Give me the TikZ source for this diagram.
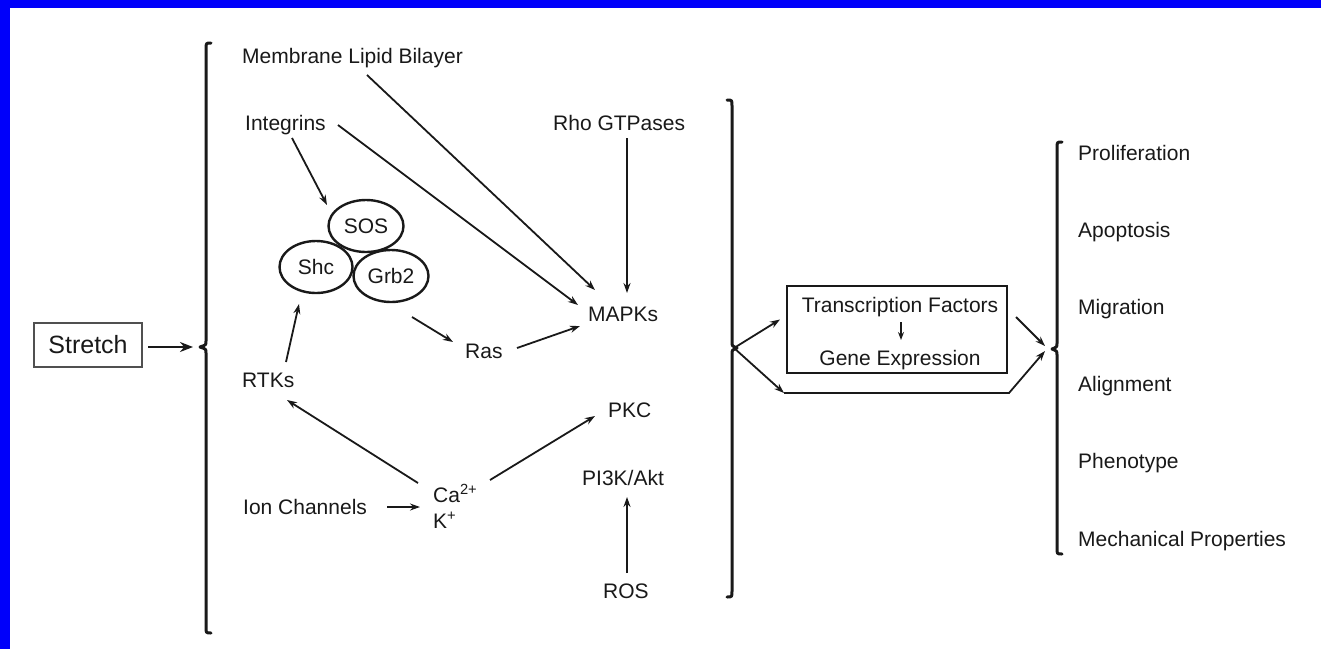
\documentclass[tikz,border=0pt]{standalone}
\usepackage{fontspec}
\setmainfont{Liberation Sans}
\usetikzlibrary{arrows.meta,shapes.geometric}
\definecolor{frameblue}{RGB}{0,0,250}
\definecolor{ink}{RGB}{25,25,25}
\tikzset{
  lbl/.style={anchor=base west, inner sep=0pt, text=ink, font=\fontsize{21}{25}\selectfont},
  clbl/.style={anchor=base, inner sep=0pt, text=ink, font=\fontsize{21}{25}\selectfont},
  blob/.style={ellipse, draw=ink, line width=2.4pt, minimum width=75pt, minimum height=52pt, inner sep=0pt, text=ink, font=\fontsize{21}{25}\selectfont},
  arr/.style={draw=ink, line width=1.8pt, -{Stealth[length=10pt,width=7pt]}},
  bigarr/.style={draw=ink, line width=2.8pt, -{Stealth[length=13pt,width=10pt]}},
  brace/.style={draw=ink, line width=3pt, line cap=round, line join=round},
}
\begin{document}
\begin{tikzpicture}[x=1pt,y=-1pt]
\useasboundingbox (0,0) rectangle (1321,649);
\fill[white] (0,0) rectangle (1321,649);
\fill[frameblue] (0,0) rectangle (1321,8);
\fill[frameblue] (0,0) rectangle (10,649);

% braces
\draw[brace] (211,43) .. controls (206,43) .. (206,49) -- (206,341) .. controls (206,345) .. (200,347) .. controls (206,349) .. (206,353) -- (206,627) .. controls (206,633) .. (211,633);
\coordinate (lcusp) at (200,347);
\draw[brace] (727,100) .. controls (732,100) .. (732,106) -- (732,342) .. controls (732,346) .. (737,348) .. controls (732,350) .. (732,354) -- (732,591) .. controls (732,597) .. (727,597);
\coordinate (mcusp) at (734,348);
\draw[brace] (1062,142) .. controls (1057,142) .. (1057,148) -- (1057,343) .. controls (1057,347) .. (1052,349) .. controls (1057,351) .. (1057,355) -- (1057,548) .. controls (1057,554) .. (1062,554);
\coordinate (rcusp) at (1052,349);

% nodes
\node[draw={rgb,255:red,80;green,80;blue,80}, line width=2.5pt, minimum width=108pt, minimum height=44pt, inner sep=0pt, text=ink, font=\fontsize{25}{30}\selectfont] (stretch) at (88,345) {Stretch};
\node[lbl] (membrane) at (242,63) {Membrane Lipid Bilayer};
\node[lbl] (integrins) at (245,130) {Integrins};
\node[lbl] (rho) at (553,130) {Rho GTPases};
\node[blob] (sos) at (366,226) {SOS};
\node[blob, minimum width=73pt] (shc) at (316,267) {Shc};
\node[blob] (grb) at (391,276) {Grb2};
\node[lbl] (mapk) at (588,321) {MAPKs};
\node[lbl] (ras) at (465,358) {Ras};
\node[lbl] (rtk) at (242,387) {RTKs};
\node[lbl] (pkc) at (608,417) {PKC};
\node[lbl] (pi3k) at (582,485) {PI3K/Akt};
\node[lbl] (ion) at (243,514) {Ion Channels};
\node[lbl] (ca) at (433,502) {Ca\textsuperscript{2+}};
\node[lbl] (kk) at (433,528) {K\textsuperscript{+}};
\node[lbl] (ros) at (603,598) {ROS};

\node[draw=ink, line width=2pt, minimum width=220pt, minimum height=87pt, inner sep=0pt] (tfbox) at (897,329.5) {};
\node[clbl] (tf) at (900,312) {Transcription Factors};
\node[clbl] (ge) at (900,365) {Gene Expression};

\node[lbl] (o1) at (1078,160) {Proliferation};
\node[lbl] (o2) at (1078,237) {Apoptosis};
\node[lbl] (o3) at (1078,314) {Migration};
\node[lbl] (o4) at (1078,391) {Alignment};
\node[lbl] (o5) at (1078,468) {Phenotype};
\node[lbl] (o6) at (1078,546) {Mechanical Properties};

% connectors
\draw[bigarr] ([shift={(5,2)}]stretch.east) -- ([shift={(-7,0)}]lcusp);
\draw[arr] ([shift={(125,12)}]membrane.base west) -- ([shift={(7,-31)}]mapk.base west);
\draw[arr] ([shift={(93,-5)}]integrins.base west) -- ([shift={(-10,-16)}]mapk.base west);
\draw[arr] ([shift={(47,8)}]integrins.base west) -- ([shift={(-39,-21)}]sos.center);
\draw[arr] ([shift={(74,8)}]rho.base west) -- ([shift={(39,-28)}]mapk.base west);
\draw[arr] ([shift={(21,41)}]grb.center) -- ([shift={(-12,-16)}]ras.base west);
\draw[arr] ([shift={(52,-10)}]ras.base west) -- ([shift={(-8,5)}]mapk.base west);
\draw[arr] ([shift={(44,-25)}]rtk.base west) -- ([shift={(-17,37)}]shc.center);
\draw[arr] ([shift={(-15,-19)}]ca.base west) -- ([shift={(45,13)}]rtk.base west);
\draw[arr] ([shift={(57,-22)}]ca.base west) -- ([shift={(-13,-1)}]pkc.base west);
\draw[arr] ([shift={(144,-7)}]ion.base west) -- ([shift={(-13,5)}]ca.base west);
\draw[arr] ([shift={(24,-25)}]ros.base west) -- ([shift={(45,12)}]pi3k.base west);
\draw[draw=ink, line width=1.6pt, -{Stealth[length=8pt,width=6pt]}] ([shift={(1,10)}]tf.base) -- ([shift={(1,-25)}]ge.base);
\draw[arr] (mcusp) -- ([shift={(-6,-10)}]tfbox.west);
\draw[arr] (mcusp) -- ([shift={(-2,19)}]tfbox.south west);
\draw[arr] ([shift={(-2,19)}]tfbox.south west) -- ([shift={(1,19)}]tfbox.south east) -- ([shift={(-7,2)}]rcusp);
\draw[arr] ([shift={(8,32)}]tfbox.north east) -- ([shift={(-7,-3)}]rcusp);
\end{tikzpicture}
\end{document}
